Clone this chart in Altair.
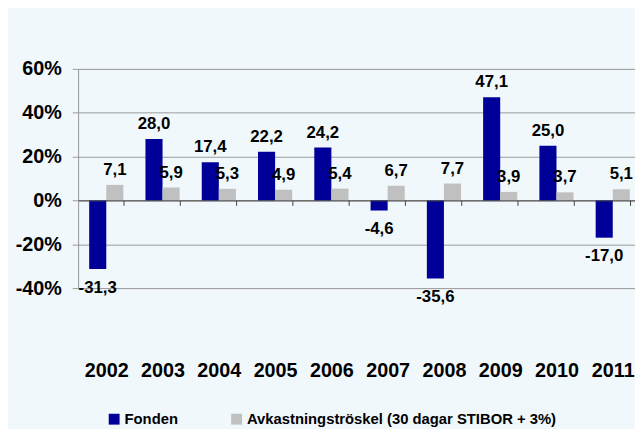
import altair as alt
import pandas as pd

years = ["2002", "2003", "2004", "2005", "2006", "2007", "2008", "2009", "2010", "2011"]
fonden = [-31.3, 28.0, 17.4, 22.2, 24.2, -4.6, -35.6, 47.1, 25.0, -17.0]
troskel = [7.1, 5.9, 5.3, 4.9, 5.4, 6.7, 7.7, 3.9, 3.7, 5.1]
series_names = ["Fonden", "Avkastningströskel (30 dagar STIBOR + 3%)"]
series_colors = ["#000099", "#C0C0C0"]
y_ticks = [-40, -20, 0, 20, 40, 60]

rows = []
for yr, f, t in zip(years, fonden, troskel):
    for s, v in zip(series_names, (f, t)):
        rows.append({"year": yr, "series": s, "value": v,
                     "label": f"{v:.1f}".replace(".", ",")})
df = pd.DataFrame(rows)

FONT = "Liberation Sans"

x_enc = alt.X(
    "year:N", sort=years,
    scale=alt.Scale(range=[0, 570], paddingInner=0.393, paddingOuter=0.197),
    axis=alt.Axis(title=None, orient="bottom", offset=-88.8, tickBand="extent",
                  domainColor="#404040", tickColor="#404040", tickSize=5,
                  labelFontSize=20, labelFontWeight="bold", labelColor="black",
                  labelPadding=157, labelAngle=0, grid=False, labelFont=FONT, zindex=1),
)
y_enc = alt.Y(
    "value:Q",
    scale=alt.Scale(domain=[-40, 60], nice=False),
    axis=alt.Axis(title=None, values=y_ticks, labelExpr="datum.value + '%'",
                  gridColor="#999999", domainColor="#999999", tickColor="#999999",
                  tickSize=6, labelPadding=11, labelFontSize=20, labelFontWeight="bold",
                  labelColor="black", labelFont=FONT),
)
xoff = alt.XOffset("series:N", sort=series_names,
                   scale=alt.Scale(domain=series_names, paddingInner=0, paddingOuter=0))

bars = alt.Chart(df).mark_bar().encode(
    x=x_enc, xOffset=xoff, y=y_enc,
    color=alt.Color("series:N", scale=alt.Scale(domain=series_names, range=series_colors),
                    legend=alt.Legend(title=None, orient="none", legendX=29, legendY=347,
                                      direction="horizontal", symbolType="square",
                                      symbolSize=121, symbolStrokeWidth=0,
                                      labelFontSize=15, labelFontWeight="bold",
                                      labelColor="black", labelOffset=3, columnPadding=51,
                                      padding=0, labelLimit=0, labelFont=FONT)),
)

pos_text = alt.Chart(df).transform_filter("datum.value >= 0").mark_text(
    baseline="bottom", dy=-6, fontSize=17, fontWeight="bold", color="black", font=FONT
).encode(x=x_enc, xOffset=xoff, y=y_enc, text="label:N")

neg_text = alt.Chart(df).transform_filter("datum.value < 0").mark_text(
    baseline="top", dy=11, fontSize=17, fontWeight="bold", color="black", font=FONT
).encode(x=x_enc, xOffset=xoff, y=y_enc, text="label:N")

chart = alt.layer(bars, pos_text, neg_text).properties(
    width=564, height=222, autosize="none",
    padding={"left": 71, "top": 59, "right": 0, "bottom": 140},
    background="#F1F8FC",
).configure_view(stroke=None).configure(font=FONT)

chart.save("out.html", embed_options={"renderer": "svg", "actions": False})
